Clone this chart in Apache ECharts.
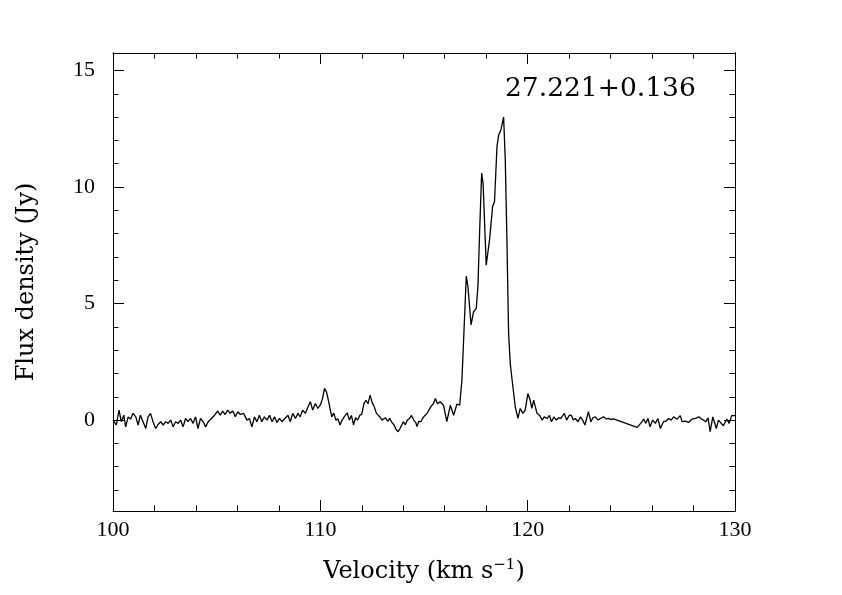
<!DOCTYPE html>
<html>
<head>
<meta charset="utf-8">
<script src="https://cdn.jsdelivr.net/npm/echarts@6/dist/echarts.min.js"></script>
<style>
html,body{margin:0;padding:0;background:#fff;}
#chart{width:842px;height:595px;}
</style>
</head>
<body>
<div id="chart"></div>
<script>
// Velocity (km/s) and flux density (Jy)
var velocity = [
100.00,100.08,100.16,100.29,100.40,100.52,100.61,100.73,100.84,100.97,
101.10,101.21,101.32,101.45,101.58,101.69,101.81,101.93,102.06,102.17,
102.30,102.42,102.54,102.66,102.78,102.90,103.02,103.14,103.26,103.38,
103.50,103.62,103.74,103.86,103.98,104.10,104.22,104.35,104.47,104.59,
104.75,104.90,105.05,105.17,105.29,105.41,105.53,105.65,105.78,105.90,
106.02,106.14,106.30,106.46,106.58,106.70,106.82,106.94,107.06,107.18,
107.30,107.43,107.55,107.67,107.79,107.91,108.03,108.15,108.29,108.44,
108.55,108.67,108.80,108.92,109.03,109.15,109.28,109.41,109.52,109.63,
109.76,109.88,110.00,110.10,110.20,110.30,110.40,110.55,110.65,110.75,
110.85,110.95,111.05,111.15,111.30,111.40,111.50,111.60,111.70,111.80,
111.90,112.00,112.10,112.20,112.30,112.40,112.50,112.60,112.70,112.80,
112.90,112.97,113.05,113.15,113.25,113.35,113.45,113.55,113.65,113.75,
113.85,114.00,114.10,114.20,114.30,114.40,114.50,114.60,114.66,114.75,
114.85,114.95,115.05,115.15,115.25,115.35,115.45,115.55,115.65,115.78,
115.94,116.10,116.27,116.43,116.59,116.72,116.83,116.91,117.04,117.12,
117.27,117.39,117.52,117.60,117.68,117.78,117.85,118.00,118.16,118.31,
118.40,118.52,118.60,118.71,118.84,118.92,119.00,119.08,119.16,119.25,
119.40,119.53,119.64,119.77,119.88,120.01,120.12,120.20,120.29,120.45,
120.58,120.70,120.80,120.94,121.05,121.15,121.27,121.38,121.50,121.60,
121.77,121.88,122.00,122.10,122.20,122.30,122.43,122.55,122.65,122.76,
122.93,123.05,123.15,123.26,123.40,123.50,123.66,123.80,123.90,124.00,
124.14,125.28,125.45,125.60,125.70,125.80,125.90,126.03,126.16,126.28,
126.40,126.55,126.68,126.80,126.92,127.04,127.20,127.36,127.45,127.60,
127.76,127.92,128.10,128.25,128.40,128.60,128.70,128.80,128.93,129.00,
129.10,129.20,129.28,129.44,129.60,129.72,129.84,130.00
];
var flux = [
0.00,0.07,-0.21,0.43,-0.07,0.21,-0.29,0.14,0.04,0.29,
0.14,-0.21,0.21,-0.07,-0.36,0.14,0.29,-0.07,-0.36,-0.19,
-0.07,-0.21,-0.07,-0.14,0.00,-0.29,-0.07,-0.14,0.00,-0.29,
0.07,-0.07,0.07,-0.14,0.14,-0.36,0.07,-0.07,-0.29,-0.07,
0.07,0.21,0.39,0.21,0.39,0.24,0.43,0.29,0.39,0.14,
0.36,0.24,0.29,0.00,0.07,-0.29,0.14,-0.07,0.21,-0.07,
0.14,0.00,0.21,-0.07,0.14,-0.10,0.07,-0.07,0.07,0.21,
-0.07,0.29,0.07,0.29,0.14,0.43,0.29,0.57,0.79,0.43,
0.71,0.50,0.65,0.90,1.36,1.20,0.80,0.14,0.30,0.00,
0.05,-0.21,0.00,0.14,0.31,0.00,0.20,-0.20,0.10,0.00,
0.20,0.25,0.70,0.85,0.70,1.07,0.75,0.57,0.30,0.20,
0.10,0.00,-0.05,0.10,-0.05,0.07,-0.10,-0.20,-0.40,-0.50,
-0.35,-0.07,-0.20,0.00,0.07,0.20,0.00,-0.10,-0.28,-0.05,
-0.07,0.10,0.20,0.29,0.45,0.60,0.70,0.93,0.70,0.79,
0.64,-0.07,0.64,0.21,0.69,0.64,1.72,3.43,6.18,5.72,
4.08,4.65,4.79,5.72,8.00,10.60,10.16,6.65,7.73,9.16,
9.37,11.73,12.23,12.45,13.00,11.16,7.73,3.72,2.43,1.72,
0.57,0.07,0.50,0.29,0.43,1.14,0.86,0.50,0.86,0.29,
0.20,0.00,0.14,0.07,0.20,-0.07,0.14,0.00,0.10,0.07,
0.29,0.00,0.20,0.21,0.00,0.07,-0.07,0.14,0.00,-0.21,
0.36,-0.07,0.10,0.14,0.00,0.07,0.14,0.05,0.07,0.03,
0.05,-0.31,-0.14,0.04,-0.14,0.07,-0.29,0.00,-0.14,0.07,
-0.36,-0.07,-0.04,0.07,0.00,0.14,0.04,0.19,-0.07,-0.04,
-0.10,0.04,0.07,0.14,0.04,-0.07,0.10,-0.50,0.14,0.07,
-0.36,0.00,-0.07,-0.24,0.04,-0.14,0.19,0.19
];
var xTickLabels = [100, 110, 120, 130];
var yMajorTicks = [0, 5, 10, 15];
var yMinorTicks = [-3, -2, -1, 1, 2, 3, 4, 6, 7, 8, 9, 11, 12, 13, 14, 15];
var sourceLabel = '27.221+0.136';

var FONT = 'Liberation Serif';
var NAMEFONT = 'DejaVu Serif';
var chart = echarts.init(document.getElementById('chart'), null, {renderer: 'canvas'});
var lineCol = '#000';
var yMin = -3.9, yMax = 15.75;

function yAxisDef(pos, ticks, len, showLabel, name) {
  return {
    type: 'value', position: pos, min: yMin, max: yMax,
    name: name || '', nameLocation: 'middle', nameGap: 74,
    nameTextStyle: {fontFamily: NAMEFONT, fontSize: 24, color: '#000'},
    axisLine: {show: true, onZero: false, lineStyle: {color: lineCol, width: 1}},
    axisTick: {show: true, inside: true, length: len, customValues: ticks, lineStyle: {color: lineCol, width: 1}},
    axisLabel: {show: showLabel, customValues: ticks, fontFamily: FONT, fontSize: 22, color: '#000', margin: 18},
    splitLine: {show: false}
  };
}
function xAxisDef(pos, showLabel, name) {
  return {
    type: 'value', position: pos, min: 100, max: 130, interval: 10,
    name: name || '', nameLocation: 'middle', nameGap: 47,
    nameTextStyle: {fontFamily: NAMEFONT, fontSize: 24, color: '#000',
      rich: {sup: {fontFamily: NAMEFONT, fontSize: 15, color: '#000', verticalAlign: 'top', padding: [0,0,13,0]}}},
    axisLine: {show: true, onZero: false, lineStyle: {color: lineCol, width: 1}},
    axisTick: {show: true, inside: true, length: 11, lineStyle: {color: lineCol, width: 1}},
    minorTick: {show: true, splitNumber: 5, length: 5.5, lineStyle: {color: lineCol, width: 1}},
    axisLabel: {show: showLabel, fontFamily: FONT, fontSize: 22, color: '#000', margin: 8},
    splitLine: {show: false}
  };
}

var option = {
  animation: false,
  backgroundColor: '#fff',
  grid: {left: 113, right: 107, top: 53, bottom: 84, containLabel: false},
  xAxis: [
    xAxisDef('bottom', true, 'Velocity (km s{sup|\u22121})'),
    xAxisDef('top', false)
  ],
  yAxis: [
    yAxisDef('left', yMajorTicks, 11, true, 'Flux density (Jy)'),
    yAxisDef('left', yMinorTicks, 5.5, false),
    yAxisDef('right', yMajorTicks, 11, false),
    yAxisDef('right', yMinorTicks, 5.5, false)
  ],
  series: [{
    type: 'line', xAxisIndex: 0, yAxisIndex: 0,
    data: velocity.map(function (v, i) { return [v, flux[i]]; }),
    symbol: 'none', showSymbol: false,
    lineStyle: {color: '#000', width: 1.3},
    silent: true
  }],
  graphic: [{
    type: 'text', x: 505, y: 89,
    style: {text: sourceLabel, fontFamily: NAMEFONT, fontSize: 26.5, fill: '#000', verticalAlign: 'middle', align: 'left'}
  }]
};
chart.setOption(option);
</script>
</body>
</html>
